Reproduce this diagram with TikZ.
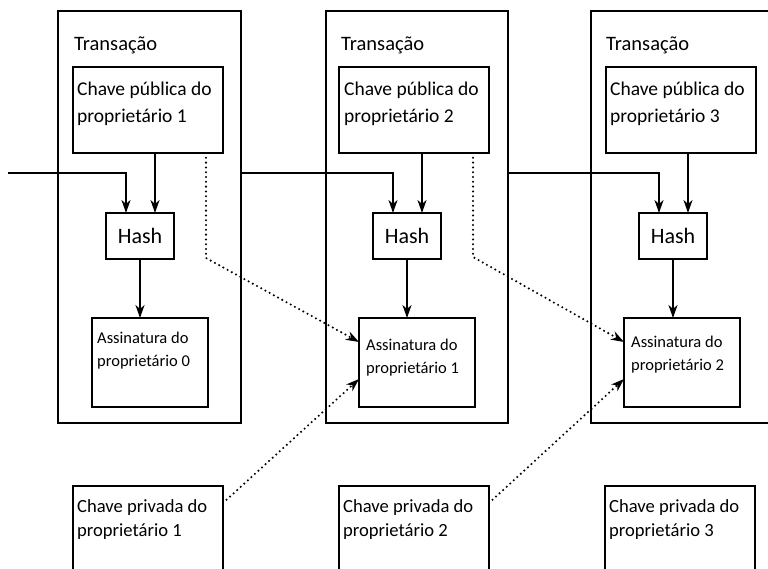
\documentclass[tikz,border=0pt]{standalone}
\usepackage{fontspec}
\setmainfont{Carlito}
\usetikzlibrary{arrows.meta}
\begin{document}
\begin{tikzpicture}[x=1pt,y=-1pt,
  box/.style={draw, line width=2pt, inner sep=0pt, outer sep=0pt},
  tip/.style={-{Stealth[length=13pt,width=9pt,inset=4pt]}},
  arr/.style={line width=2pt, tip},
  dots/.style={line width=2.3pt, dash pattern=on 0pt off 4.8pt, line cap=round, tip},
  title/.style={anchor=base west, inner sep=0pt, font=\fontsize{20.5}{24}\selectfont},
  pubtxt/.style={anchor=base west, inner sep=0pt, align=left, font=\fontsize{19.5}{27}\selectfont},
  sigtxt/.style={anchor=base west, inner sep=0pt, align=left, font=\fontsize{16.5}{23}\selectfont},
  privtxt/.style={anchor=base west, inner sep=0pt, align=left, font=\fontsize{18.6}{24}\selectfont},
  hashbox/.style={box, minimum width=68pt, minimum height=46pt, font=\fontsize{22}{22}\selectfont},
  txbox/.style={box, minimum width=182pt, minimum height=412pt},
  keybox/.style={box, minimum width=150pt, minimum height=86pt},
  sigbox/.style={box, minimum width=116pt, minimum height=89pt}
]
\clip (0,0) rectangle (768,568);
\fill[white] (0,0) rectangle (768,568);

% transaction boxes
\node[txbox, minimum width=183pt] (tx1) at (149.5,217) {};
\node[txbox] (tx2) at (417,217) {};
\node[txbox] (tx3) at (682,217) {};
\node[title] (tx1t) at (74,50) {Transação};
\node[title] (tx2t) at (341,50) {Transação};
\node[title] (tx3t) at (606,50) {Transação};

% public keys
\node[keybox] (pub1) at (148,110) {};
\node[keybox] (pub2) at (414,110) {};
\node[keybox] (pub3) at (681,110) {};
\node[pubtxt] (pub1t) at (77,122) {Chave pública do\\proprietário 1};
\node[pubtxt] (pub2t) at (344,122) {Chave pública do\\proprietário 2};
\node[pubtxt] (pub3t) at (610,122) {Chave pública do\\proprietário 3};

% hashes
\node[hashbox] (hash1) at (140,236) {Hash};
\node[hashbox] (hash2) at (407,236) {Hash};
\node[hashbox] (hash3) at (673,236) {Hash};

% signatures
\node[sigbox] (sig0) at (150,362.5) {};
\node[sigbox] (sig1) at (417,362.5) {};
\node[sigbox] (sig2) at (682,362.5) {};
\node[sigtxt] (sig0t) at (97,366) {Assinatura do\\proprietário 0};
\node[sigtxt] (sig1t) at (366,373) {Assinatura do\\proprietário 1};
\node[sigtxt] (sig2t) at (631,370) {Assinatura do\\proprietário 2};

% private keys
\node[keybox] (priv1) at (148,529) {};
\node[keybox] (priv2) at (414,529) {};
\node[keybox] (priv3) at (680,529) {};
\node[privtxt] (priv1t) at (77,536) {Chave privada do\\proprietário 1};
\node[privtxt] (priv2t) at (343,536) {Chave privada do\\proprietário 2};
\node[privtxt] (priv3t) at (609,536) {Chave privada do\\proprietário 3};

% chain
\coordinate (start) at (8,173);
\draw[arr] (start) -| ([xshift=-14pt]hash1.north);
\draw[arr] (tx1.east |- start) -| ([xshift=-14pt]hash2.north);
\draw[arr] (tx2.east |- start) -| ([xshift=-14pt]hash3.north);

% public key -> hash
\draw[arr] ([xshift=7pt]pub1.south) -- ([xshift=7pt]pub1.south |- hash1.north);
\draw[arr] ([xshift=8pt]pub2.south) -- ([xshift=8pt]pub2.south |- hash2.north);
\draw[arr] ([xshift=7pt]pub3.south) -- ([xshift=7pt]pub3.south |- hash3.north);

% hash -> signature
\draw[arr] (hash1.south) -- (hash1.south |- sig0.north);
\draw[arr] (hash2.south) -- (hash2.south |- sig1.north);
\draw[arr] (hash3.south) -- (hash3.south |- sig2.north);

% dotted verification links
\draw[dots] ([xshift=-17pt]pub1.south east) -- ++(0,105) -- ([yshift=-24pt]sig1.north west);
\draw[dots] ([xshift=-16pt]pub2.south east) -- ++(0,104) -- ([yshift=-24pt]sig2.north west);
\draw[dots] ([yshift=-17pt]priv1.north east) -- ([yshift=-61pt]sig1.north west);
\draw[dots] ([yshift=-17pt]priv2.north east) -- ([yshift=-61pt]sig2.north west);
\end{tikzpicture}
\end{document}
